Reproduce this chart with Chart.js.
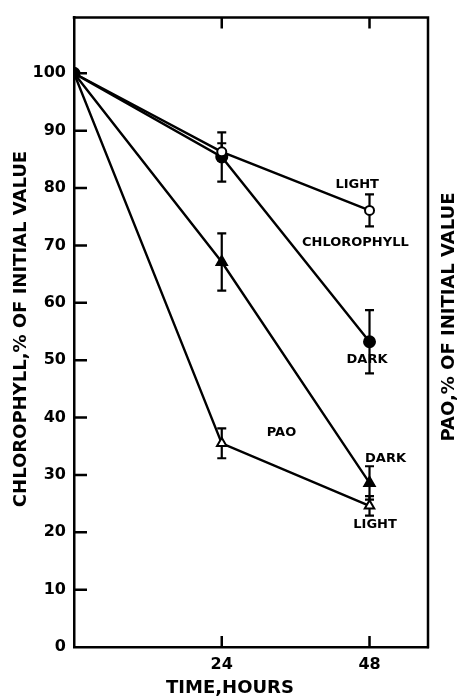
<!DOCTYPE html>
<html>
<head>
<meta charset="utf-8">
<script src="https://cdn.jsdelivr.net/npm/chart.js@4.4.1/dist/chart.umd.min.js"></script>
<style>
html,body{margin:0;padding:0;background:#fff;}
canvas{display:block;}
</style>
</head>
<body>
<canvas id="c" width="459" height="698" style="width:459px;height:698px"></canvas>
<script>
// ---- data ----
const hours = [0, 24, 48];
const xTickValues = [24, 48];
const yTickValues = [0, 10, 20, 30, 40, 50, 60, 70, 80, 90, 100];

const chlLight = [100, 86.3, 76.1];
const chlLightErr = [0, 1.5, 2.8];
const chlDark = [100, 85.4, 53.2];
const chlDarkErr = [0, 4.3, 5.5];
const paoDark = [100, 67.1, 28.6];
const paoDarkErr = [0, 5.0, 2.9];
const paoLight = [100, 35.5, 24.6];
const paoLightErr = [0, 2.6, 1.7];

const leftTitle = "CHLOROPHYLL,% OF INITIAL VALUE";
const rightTitle = "PAO,% OF INITIAL VALUE";
const xTitle = "TIME,HOURS";
const noteText = ["LIGHT", "CHLOROPHYLL", "DARK", "PAO", "DARK", "LIGHT"];
const noteX = [46.0, 45.7, 47.6, 33.7, 50.6, 48.9];
const noteY = [80.6, 70.5, 50.1, 37.3, 32.8, 21.3];

const FONT = "'DejaVu Sans', sans-serif";

function pts(ys) { return hours.map((h, i) => ({x: h, y: ys[i]})); }

const datasets = [
  {label: 'Chlorophyll light', data: pts(chlLight), err: chlLightErr, pointStyle: 'circle',
   pointRadius: c => c.dataIndex === 0 ? 0 : 4.5, pointBackgroundColor: '#fff'},
  {label: 'PAO light', data: pts(paoLight), err: paoLightErr, pointStyle: 'triangle',
   pointRadius: c => c.dataIndex === 0 ? 0 : 5.5, pointBackgroundColor: '#fff'},
  {label: 'PAO dark', data: pts(paoDark), err: paoDarkErr, pointStyle: 'triangle',
   pointRadius: c => c.dataIndex === 0 ? 0 : 6, pointBackgroundColor: '#000'},
  {label: 'Chlorophyll dark', data: pts(chlDark), err: chlDarkErr, pointStyle: 'circle',
   pointRadius: 5.5, pointBackgroundColor: '#000'}
].map(d => Object.assign({
  showLine: true, borderColor: '#000', borderWidth: 2.4, pointBorderColor: '#000',
  pointBorderWidth: 2, tension: 0, fill: false
}, d));

const decor = {
  id: 'decor',
  beforeDatasetsDraw(chart) {
    const ctx = chart.ctx, xs = chart.scales.x, ys = chart.scales.y;
    ctx.save();
    ctx.strokeStyle = '#000';
    ctx.lineWidth = 2.2;
    chart.data.datasets.forEach(ds => {
      ds.data.forEach((p, i) => {
        const e = ds.err[i];
        if (!e) return;
        const px = xs.getPixelForValue(p.x);
        const top = ys.getPixelForValue(p.y + e);
        const bot = ys.getPixelForValue(p.y - e);
        ctx.beginPath();
        ctx.moveTo(px, top); ctx.lineTo(px, bot);
        ctx.moveTo(px - 4.5, top); ctx.lineTo(px + 4.5, top);
        ctx.moveTo(px - 4.5, bot); ctx.lineTo(px + 4.5, bot);
        ctx.stroke();
      });
    });
    ctx.restore();
  },
  afterDraw(chart) {
    const ctx = chart.ctx, xs = chart.scales.x, ys = chart.scales.y;
    const a = chart.chartArea;
    ctx.save();
    ctx.strokeStyle = '#000';
    ctx.lineCap = 'square';
    // frame top and right
    ctx.lineWidth = 2.5;
    ctx.beginPath();
    ctx.moveTo(a.left, a.top); ctx.lineTo(a.right, a.top); ctx.lineTo(a.right, a.bottom);
    ctx.stroke();
    // inward ticks
    ctx.lineWidth = 2.5;
    ctx.lineCap = 'butt';
    ctx.beginPath();
    yTickValues.forEach(v => {
      if (v === 0) return;
      const py = ys.getPixelForValue(v);
      ctx.moveTo(a.left, py); ctx.lineTo(a.left + 13, py);
    });
    xTickValues.forEach(v => {
      const px = xs.getPixelForValue(v);
      ctx.moveTo(px, a.bottom); ctx.lineTo(px, a.bottom - 11);
      ctx.moveTo(px, a.top); ctx.lineTo(px, a.top + 11);
    });
    ctx.stroke();
    // titles
    ctx.fillStyle = '#000';
    ctx.textAlign = 'center';
    ctx.textBaseline = 'middle';
    ctx.font = "bold 18px " + FONT;
    ctx.save(); ctx.translate(21, 329); ctx.rotate(-Math.PI / 2); ctx.fillText(leftTitle, 0, 0); ctx.restore();
    ctx.save(); ctx.translate(449, 317); ctx.rotate(-Math.PI / 2); ctx.fillText(rightTitle, 0, 0); ctx.restore();
    ctx.fillText(xTitle, 230, 688);
    // annotations
    ctx.font = "bold 13px " + FONT;
    noteText.forEach((t, i) => {
      ctx.fillText(t, xs.getPixelForValue(noteX[i]), ys.getPixelForValue(noteY[i]));
    });
    ctx.restore();
  }
};

new Chart(document.getElementById('c'), {
  type: 'scatter',
  data: {datasets},
  plugins: [decor],
  options: {
    responsive: false,
    animation: false,
    layout: {padding: {top: 14, left: 0, right: 0, bottom: 0}},
    plugins: {legend: {display: false}, tooltip: {enabled: false}},
    scales: {
      x: {
        type: 'linear', min: 0, max: 57.5,
        afterBuildTicks: s => { s.ticks = xTickValues.map(v => ({value: v})); },
        afterFit: s => { s.height = 51; },
        grid: {display: false, drawTicks: false},
        border: {display: true, width: 2.5, color: '#000'},
        ticks: {padding: 8, color: '#000', font: {family: FONT, size: 16, weight: 'bold'}}
      },
      y: {
        type: 'linear', min: 0, max: 109.7,
        afterBuildTicks: s => { s.ticks = yTickValues.map(v => ({value: v})); },
        afterFit: s => { s.width = 74; },
        grid: {display: false, drawTicks: false},
        border: {display: true, width: 2.5, color: '#000'},
        ticks: {padding: 8, color: '#000', font: {family: FONT, size: 16, weight: 'bold'}}
      },
      y2: {
        type: 'linear', position: 'right', min: 0, max: 109.7,
        afterFit: s => { s.width = 31; },
        grid: {display: false, drawTicks: false},
        border: {display: false},
        ticks: {display: false}
      }
    }
  }
});
</script>
</body>
</html>
